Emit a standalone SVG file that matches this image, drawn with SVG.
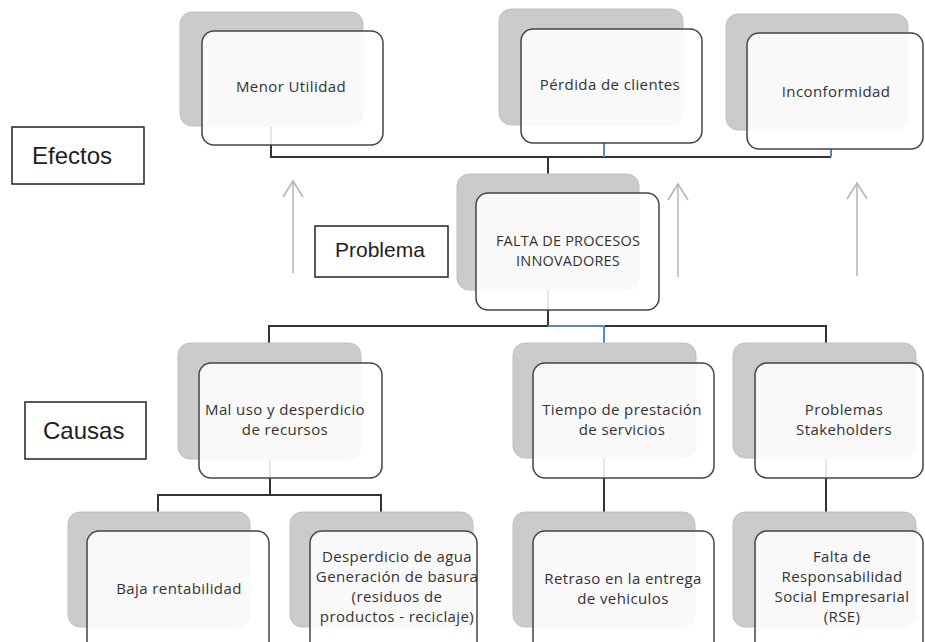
<svg xmlns="http://www.w3.org/2000/svg" width="925" height="642" viewBox="0 0 925 642">
<defs>
<style>
.back{fill:#cbcbcb;stroke:#c0c0c0;stroke-width:1}
.front{fill:#ffffff;fill-opacity:0.88;stroke:#444444;stroke-width:1.5}
.t{font-family:"Open Sans","Liberation Sans",sans-serif;font-size:15px;letter-spacing:0.4px;fill:#333333;text-anchor:middle}
.caps{font-size:14.5px;letter-spacing:0.2px}
.lbl{fill:#ffffff;stroke:#222222;stroke-width:1.5}
.lt{font-family:"Liberation Sans",Arial,sans-serif;fill:#1e1e1e}
.c{fill:none;stroke:#333333;stroke-width:2}
.cb{fill:none;stroke:#5b86c8;stroke-width:2}
.ar{fill:none;stroke:#b4b4b4;stroke-width:1.5}
</style>
</defs>
<rect width="925" height="642" fill="#ffffff"/>
<g id="connectors">
<polyline class="c" points="271,126 271,157 831,157"/>
<line class="cb" x1="604" y1="143" x2="604" y2="157"/>
<line class="cb" x1="831" y1="149" x2="831" y2="157"/>
<line class="c" x1="548" y1="157" x2="548" y2="174"/>
<line class="c" x1="548" y1="290" x2="548" y2="326"/>
<polyline class="c" points="269,343 269,326 548,326"/>
<polyline class="c" points="604,326 826,326 826,343"/>
<polyline class="cb" points="548,326 604,326 604,343"/>
<line class="c" x1="270" y1="459" x2="270" y2="495"/>
<polyline class="c" points="158,512 158,495 381,495 381,512"/>
<line class="c" x1="604" y1="458" x2="604" y2="512"/>
<line class="c" x1="826" y1="458" x2="826" y2="512"/>
<g id="arrows">
<line class="ar" x1="293" y1="273" x2="293" y2="181"/>
<polyline class="ar" points="283,197 293,181 303,197"/>
<line class="ar" x1="678" y1="277" x2="678" y2="184"/>
<polyline class="ar" points="668,200 678,184 688,200"/>
<line class="ar" x1="857" y1="276" x2="857" y2="183"/>
<polyline class="ar" points="847,199 857,183 867,199"/>
</g>
</g>
<g id="efectos">
<rect class="lbl" x="12" y="127" width="132" height="57"/>
<text class="lt" x="32" y="164" font-size="24">Efectos</text>
</g>
<g id="problema">
<rect class="lbl" x="315" y="226" width="133" height="51"/>
<text class="lt" x="335" y="257" font-size="21">Problema</text>
</g>
<g id="causas">
<rect class="lbl" x="25" y="402" width="121" height="57"/>
<text class="lt" x="43" y="439" font-size="24">Causas</text>
</g>
<g id="menor-utilidad">
<rect class="back" x="180" y="12" width="183" height="114" rx="12"/>
<rect class="front" x="202" y="31" width="181" height="114" rx="12"/>
<text class="t" x="291" y="92">Menor Utilidad</text>
</g>
<g id="perdida-clientes">
<rect class="back" x="499" y="9" width="184" height="116" rx="12"/>
<rect class="front" x="521" y="29" width="181" height="114" rx="12"/>
<text class="t" x="610" y="90">Pérdida de clientes</text>
</g>
<g id="inconformidad">
<rect class="back" x="726" y="14" width="182" height="116" rx="12"/>
<rect class="front" x="747" y="33" width="176" height="116" rx="12"/>
<text class="t" x="836" y="97">Inconformidad</text>
</g>
<g id="falta-procesos">
<rect class="back" x="457" y="174" width="182" height="116" rx="12"/>
<rect class="front" x="476" y="193" width="183" height="117" rx="12"/>
<text class="t caps" x="568" y="246">FALTA DE PROCESOS</text>
<text class="t caps" x="568" y="266">INNOVADORES</text>
</g>
<g id="mal-uso">
<rect class="back" x="178" y="343" width="183" height="116" rx="12"/>
<rect class="front" x="199" y="363" width="183" height="115" rx="12"/>
<text class="t" x="285" y="415">Mal uso y desperdicio</text>
<text class="t" x="285" y="435">de recursos</text>
</g>
<g id="tiempo">
<rect class="back" x="513" y="343" width="183" height="115" rx="12"/>
<rect class="front" x="533" y="363" width="181" height="115" rx="12"/>
<text class="t" x="622" y="415">Tiempo de prestación</text>
<text class="t" x="622" y="435">de servicios</text>
</g>
<g id="stakeholders">
<rect class="back" x="733" y="343" width="183" height="115" rx="12"/>
<rect class="front" x="755" y="363" width="168" height="115" rx="12"/>
<text class="t" x="844" y="415">Problemas</text>
<text class="t" x="844" y="435">Stakeholders</text>
</g>
<g id="baja-rentabilidad">
<rect class="back" x="68" y="512" width="182" height="115" rx="12"/>
<rect class="front" x="87" y="531" width="182" height="130" rx="12"/>
<text class="t" x="179" y="594">Baja rentabilidad</text>
</g>
<g id="desperdicio">
<rect class="back" x="290" y="512" width="183" height="115" rx="12"/>
<rect class="front" x="310" y="531" width="167" height="130" rx="12"/>
<text class="t" x="397" y="562">Desperdicio de agua</text>
<text class="t" x="397" y="582">Generación de basura</text>
<text class="t" x="397" y="602">(residuos de</text>
<text class="t" x="397" y="622">productos - reciclaje)</text>
</g>
<g id="retraso">
<rect class="back" x="513" y="512" width="182" height="115" rx="12"/>
<rect class="front" x="533" y="531" width="181" height="130" rx="12"/>
<text class="t" x="623" y="584">Retraso en la entrega</text>
<text class="t" x="623" y="604">de vehiculos</text>
</g>
<g id="falta-rse">
<rect class="back" x="733" y="512" width="183" height="115" rx="12"/>
<rect class="front" x="755" y="531" width="168" height="130" rx="12"/>
<text class="t" x="842" y="562">Falta de</text>
<text class="t" x="842" y="582">Responsabilidad</text>
<text class="t" x="842" y="602">Social Empresarial</text>
<text class="t" x="842" y="622">(RSE)</text>
</g>
</svg>
